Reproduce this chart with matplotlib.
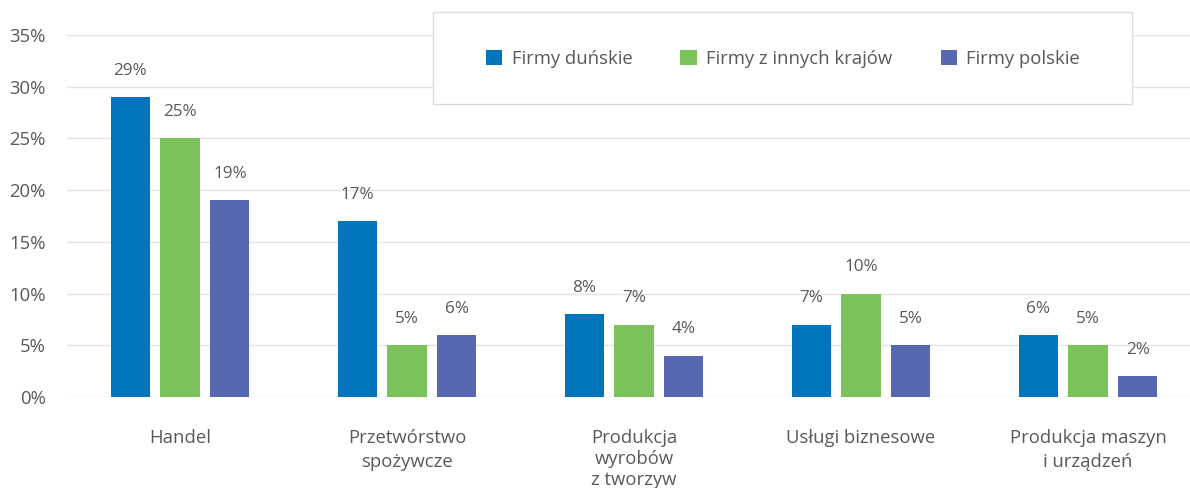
import matplotlib
matplotlib.use("Agg")
from matplotlib import pyplot as plt
from matplotlib.patches import Rectangle
from matplotlib.ticker import FuncFormatter
import numpy as np

# chart data
categories = ["Handel", "Przetwórstwo\nspożywcze", "Produkcja\nwyrobów\nz tworzyw",
              "Usługi biznesowe", "Produkcja maszyn\ni urządzeń"]
series_names = ["Firmy duńskie", "Firmy z innych krajów", "Firmy polskie"]
danish = [29, 17, 8, 7, 6]
other = [25, 5, 7, 10, 5]
polish = [19, 6, 4, 5, 2]
y_ticks = [0, 5, 10, 15, 20, 25, 30, 35]

colors = ["#0075BC", "#7BC25A", "#5767B1"]
text_gray = "#595959"

plt.rcParams["font.family"] = ["Open Sans", "DejaVu Sans"]

fig = plt.figure(figsize=(11.9, 4.88), dpi=100)
# axes run a bit past the right edge, as in the original layout
ax = fig.add_axes([66.5 / 1190, 91 / 488, 1135 / 1190, 362 / 488])

x = np.arange(len(categories))
width = 0.172
step = 0.22
for i, (vals, name) in enumerate(zip([danish, other, polish], series_names)):
    pos = x + (i - 1) * step
    bars = ax.bar(pos, vals, width=width, color=colors[i], label=name, zorder=3)
    for b, v in zip(bars, vals):
        ax.annotate(f"{v}%", (b.get_x() + b.get_width() / 2, v),
                    xytext=(0, 19), textcoords="offset points",
                    ha="center", va="center", fontsize=12.3, color=text_gray)

ax.set_xlim(-0.5, len(categories) - 0.5)
ax.set_ylim(0, 35)
ax.set_yticks(y_ticks)
ax.yaxis.set_major_formatter(FuncFormatter(lambda v, _: f"{v:.0f}%"))
ax.set_xticks(x)
ax.set_xticklabels(categories, fontsize=13.3, color=text_gray, linespacing=1.4)
# three-line label gets a bit tighter spacing so it stays inside the figure
for lbl in ax.get_xticklabels():
    if lbl.get_text().count("\n") >= 2:
        lbl.set_linespacing(1.22)
ax.tick_params(axis="y", labelsize=13.3, labelcolor=text_gray, length=0, pad=15)
ax.tick_params(axis="x", length=0, pad=23)
ax.grid(axis="y", color="#e3e3e3", linewidth=1, zorder=0)
for s in ax.spines.values():
    s.set_visible(False)

# legend box
fig.patches.append(Rectangle((433 / 1190, 1 - 104 / 488), 699 / 1190, 92 / 488,
                             transform=fig.transFigure, facecolor="white",
                             edgecolor="#dcdcdc", linewidth=1, zorder=5))
leg = fig.legend(loc="center", bbox_to_anchor=(783 / 1190, 1 - 59 / 488), ncol=3,
                 frameon=False, fontsize=13.3, handlelength=0.9, handleheight=0.9,
                 handletextpad=0.5, columnspacing=2.6)
leg.set_zorder(6)
for t in leg.get_texts():
    t.set_color(text_gray)

fig.savefig("out.png", dpi=100)
